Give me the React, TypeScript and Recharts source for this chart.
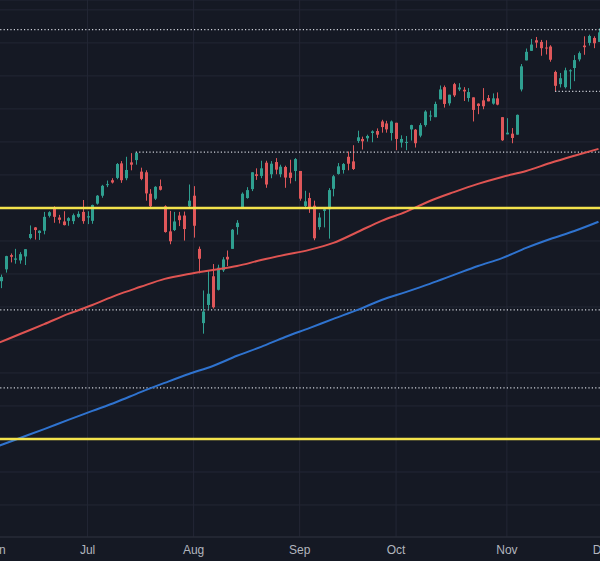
import { Bar, CartesianGrid, ComposedChart, Line, ReferenceLine, XAxis, YAxis } from "recharts";

const BG = "#151924";
const UP = "#2f9f90";
const DOWN = "#df575a";

// daily OHLC, Jun 3 -> Nov 29 (trading days)
const opens = [
  5283, 5278, 5314, 5357, 5343, 5341, 5353, 5409, 5441, 5424, 5431, 5476, 5499, 5471, 5459, 5461, 5460, 5473, 5488,
  5471, 5461, 5513, 5537, 5572, 5584, 5591, 5635, 5590, 5638, 5645, 5610, 5608, 5543, 5528, 5566, 5505, 5429, 5433, 5477, 5477, 5505,
  5537, 5376, 5151, 5206, 5293, 5252, 5311, 5352, 5376, 5442, 5501, 5530, 5557, 5602, 5597, 5637, 5602, 5639, 5602, 5624, 5607, 5612,
  5612, 5506, 5530, 5507, 5442, 5491, 5496, 5558, 5603, 5615, 5655, 5641, 5703, 5709, 5711, 5727, 5733, 5762, 5756, 5727,
  5758, 5698, 5698, 5738, 5737, 5719, 5751, 5778, 5775, 5829, 5866, 5817, 5875, 5859, 5858, 5833, 5835, 5816, 5826, 5833, 5816, 5832, 5775,
  5723, 5725, 5722, 5859, 5947, 5976, 6008, 6003, 5986, 5989, 5912, 5875, 5866, 5917, 5924, 5950, 5992, 6000, 6015, 6003,
];
const highs = [
  5302, 5298, 5355, 5362, 5376, 5366, 5375, 5447, 5442, 5432, 5488, 5490, 5505, 5479, 5490, 5472, 5483, 5490, 5524,
  5490, 5510, 5539, 5570, 5583, 5590, 5636, 5642, 5655, 5666, 5669, 5622, 5614, 5557, 5566, 5586, 5508, 5491, 5488, 5488, 5489, 5571,
  5566, 5383, 5250, 5312, 5330, 5328, 5351, 5371, 5436, 5463, 5547, 5563, 5608, 5620, 5643, 5643, 5642, 5651, 5631, 5628, 5646, 5651,
  5612, 5552, 5546, 5522, 5485, 5501, 5560, 5600, 5636, 5636, 5671, 5690, 5734, 5716, 5722, 5735, 5741, 5767, 5764, 5765,
  5758, 5720, 5718, 5752, 5739, 5757, 5796, 5795, 5822, 5871, 5871, 5843, 5879, 5878, 5866, 5863, 5835, 5817, 5863, 5842, 5847, 5850, 5775,
  5772, 5742, 5783, 5936, 5983, 6012, 6018, 6009, 6008, 5993, 5916, 5909, 5925, 5920, 5963, 5974, 6020, 6025, 6020, 6044,
];
const lows = [
  5234, 5257, 5304, 5335, 5331, 5331, 5327, 5405, 5404, 5403, 5420, 5471, 5455, 5453, 5447, 5446, 5451, 5470, 5452,
  5451, 5452, 5510, 5531, 5563, 5574, 5587, 5576, 5584, 5614, 5631, 5584, 5522, 5498, 5524, 5553, 5425, 5390, 5430, 5445, 5401, 5503,
  5410, 5302, 5119, 5193, 5195, 5250, 5306, 5324, 5376, 5419, 5497, 5528, 5551, 5585, 5590, 5561, 5590, 5602, 5593, 5561, 5574, 5581,
  5522, 5501, 5485, 5402, 5434, 5441, 5407, 5535, 5601, 5604, 5614, 5615, 5697, 5677, 5701, 5699, 5712, 5728, 5728, 5704,
  5675, 5683, 5675, 5704, 5683, 5714, 5746, 5764, 5775, 5829, 5804, 5810, 5836, 5854, 5824, 5822, 5762, 5784, 5799, 5823, 5813, 5811, 5703,
  5723, 5696, 5722, 5853, 5947, 5976, 5985, 5961, 5965, 5943, 5853, 5865, 5862, 5860, 5884, 5944, 5964, 5992, 5984, 6003,
];
const closes = [
  5283, 5291, 5354, 5352, 5347, 5360, 5375, 5421, 5433, 5431, 5473, 5487, 5473, 5464, 5448, 5469, 5478, 5482, 5460,
  5475, 5509, 5537, 5567, 5572, 5577, 5633, 5584, 5615, 5631, 5667, 5588, 5544, 5505, 5564, 5555, 5427, 5399, 5459, 5463, 5436, 5522,
  5446, 5346, 5186, 5240, 5199, 5319, 5344, 5344, 5434, 5455, 5543, 5554, 5608, 5597, 5620, 5571, 5634, 5616, 5625, 5592, 5591, 5648,
  5528, 5520, 5503, 5408, 5471, 5496, 5554, 5596, 5626, 5633, 5634, 5618, 5714, 5702, 5718, 5732, 5722, 5745, 5738, 5762,
  5709, 5709, 5700, 5751, 5696, 5751, 5792, 5780, 5815, 5859, 5815, 5843, 5841, 5865, 5853, 5851, 5797, 5809, 5808, 5823, 5832, 5813, 5705,
  5728, 5712, 5782, 5929, 5973, 5995, 6001, 5984, 5985, 5949, 5870, 5893, 5917, 5917, 5948, 5969, 5987, 6021, 5999, 6032,
];

// first trading day of each month (bar index) and its label
const monthTicks = [0, 19, 41, 63, 83, 106, 126];
const monthNames = ["Jun", "Jul", "Aug", "Sep", "Oct", "Nov", "Dec"];

// moving averages, read every 5th bar
const maIdx = [0, 5, 10, 15, 20, 25, 30, 35, 40, 45, 50, 55, 60, 65, 70, 75, 80, 85, 90, 95, 100, 105, 110, 115, 120, 125];
const redMa = [5088, 5118, 5148, 5179, 5206, 5236, 5261, 5285, 5300, 5312, 5324, 5342, 5358, 5373, 5394, 5427, 5461, 5488, 5521, 5548, 5573, 5594, 5612, 5636, 5658, 5679];
const blueMa = [4776, 4803, 4830, 4858, 4885, 4912, 4942, 4970, 4997, 5021, 5052, 5079, 5109, 5136, 5164, 5191, 5221, 5245, 5270, 5297, 5324, 5348, 5379, 5406, 5430, 5458];

// horizontal levels
const yellowLevels = [5500, 4800];
const dottedLevels = [6040, 5191, 4955];
const dottedFrom = [
  { from: 29, level: 5669 },
  { from: 116, level: 5853 },
];

const priceTicks = [4600, 4700, 4800, 4900, 5000, 5100, 5200, 5300, 5400, 5500, 5600, 5700, 5800, 5900, 6000, 6100];

const candles = opens.map((o, i) => ({ i, open: o, high: highs[i], low: lows[i], close: closes[i], range: [lows[i], highs[i]] }));
const redData = maIdx.map((i, k) => ({ i, v: redMa[k] }));
const blueData = maIdx.map((i, k) => ({ i, v: blueMa[k] }));

function Candle(props: any) {
  const { x, y, width, height, payload } = props;
  if (!payload) return null;
  const { open, high, low, close } = payload;
  const top = Math.min(y, y + height);
  const h = Math.abs(height);
  const per = high > low ? h / (high - low) : 0;
  const yOf = (v: number) => top + (high - v) * per;
  const color = close >= open ? UP : DOWN;
  const cx = Math.round(x + width / 2) + 0.5;
  const b1 = yOf(Math.max(open, close));
  const b2 = yOf(Math.min(open, close));
  return (
    <g>
      <line x1={cx} x2={cx} y1={top} y2={top + h} stroke={color} strokeWidth={1} />
      <rect x={cx - 1.5} y={b1} width={3} height={Math.max(1, b2 - b1)} fill={color} />
    </g>
  );
}

export default function App() {
  return (
    <div style={{ width: 600, height: 561, overflow: "hidden", background: BG, position: "relative" }}>
      <style>{"body{margin:0;overflow:hidden;background:#151924}"}</style>
      <div style={{ position: "absolute", left: -10, top: 0 }}>
        <ComposedChart width={620} height={561} data={candles} margin={{ top: 0, right: 0, bottom: 0, left: 0 }}>
          <CartesianGrid stroke="#232735" strokeWidth={1} />
          <XAxis
            dataKey="i"
            type="number"
            domain={[-1.245, 127.39]}
            allowDataOverflow
            ticks={monthTicks}
            tickFormatter={(v: number) => monthNames[monthTicks.indexOf(v)]}
            height={24}
            tickLine={false}
            axisLine={{ stroke: "#2a2e39" }}
            tick={{ fill: "#b2b5be", fontSize: 12, fontFamily: "Liberation Sans, Arial, sans-serif" }}
            interval={0}
          />
          <YAxis hide type="number" domain={[4503, 6130]} allowDataOverflow ticks={priceTicks} width={0} />
          {dottedLevels.map((lv) => (
            <ReferenceLine key={`d${lv}`} y={lv} stroke="#cfd2da" strokeWidth={1.2} strokeDasharray="1.2 2.2" />
          ))}
          {dottedFrom.map((d) => (
            <ReferenceLine
              key={`s${d.level}`}
              segment={[{ x: d.from, y: d.level }, { x: 127, y: d.level }]}
              stroke="#cfd2da"
              strokeWidth={1.2}
              strokeDasharray="1.2 2.2"
            />
          ))}
          <Bar dataKey="range" barSize={3} shape={Candle} isAnimationActive={false} />
          <Line
            data={redData}
            dataKey="v"
            type="monotone"
            dot={false}
            activeDot={false}
            stroke="#df5452"
            strokeWidth={2}
            isAnimationActive={false}
          />
          <Line
            data={blueData}
            dataKey="v"
            type="monotone"
            dot={false}
            activeDot={false}
            stroke="#2f73cf"
            strokeWidth={2}
            isAnimationActive={false}
          />
          {yellowLevels.map((lv) => (
            <ReferenceLine key={`y${lv}`} y={lv} stroke="#f3e34c" strokeWidth={2.5} />
          ))}
        </ComposedChart>
      </div>
    </div>
  );
}
